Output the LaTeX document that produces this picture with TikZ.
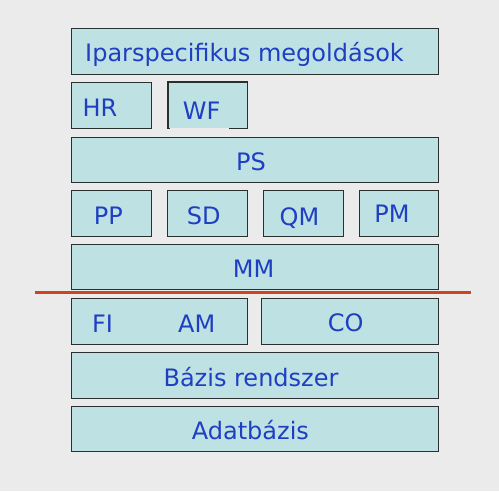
\documentclass[tikz,border=0pt]{standalone}
\usepackage{fontspec}
\setmainfont{DejaVu Sans}
\definecolor{bgc}{HTML}{EBEBEB}
\definecolor{boxc}{HTML}{BEE1E4}
\definecolor{bordc}{HTML}{2A2F2F}
\definecolor{txtc}{HTML}{1E3FC2}
\definecolor{redc}{HTML}{CC4420}
\tikzset{
  blk/.style={draw=bordc, fill=boxc, line width=1.2pt, inner sep=0pt, anchor=north west},
  blkfill/.style={fill=boxc, inner sep=0pt, anchor=north west},
  lbl/.style={text=txtc, inner sep=0pt, anchor=base, font=\fontsize{24}{28}\selectfont},
  redline/.style={draw=redc, line width=2.6pt}
}
\begin{document}
\begin{tikzpicture}[x=1pt,y=-1pt]
\fill[bgc] (0,0) rectangle (499,491);
\useasboundingbox (0,0) rectangle (499,491);
% boxes
\node[blk, minimum width=367pt, minimum height=46pt] (ip) at (71,28) {};
\node[blk, minimum width=80pt, minimum height=46pt] (hr) at (71,82) {};
\node[blkfill, minimum width=79pt, minimum height=46pt] (wf) at (168,82) {};
\draw[draw=bordc, line width=1.2pt] ([xshift=2pt]wf.south west) -- (wf.south west) -- (wf.north west) -- (wf.north east) -- (wf.south east) -- ([xshift=-18pt]wf.south east);
\node[blk, minimum width=367pt, minimum height=45.5pt] (ps) at (71,136.5) {};
\node[blk, minimum width=80pt, minimum height=45.5pt] (pp) at (71,190) {};
\node[blk, minimum width=80pt, minimum height=45.5pt] (sd) at (166.5,190) {};
\node[blk, minimum width=80pt, minimum height=45.5pt] (qm) at (262.5,190) {};
\node[blk, minimum width=79.5pt, minimum height=45.5pt] (pm) at (358.5,190) {};
\node[blk, minimum width=367pt, minimum height=45.5pt] (mm) at (71,243.5) {};
\node[blk, minimum width=176pt, minimum height=46pt] (fa) at (71,297.5) {};
\node[blk, minimum width=177pt, minimum height=46pt] (co) at (261,297.5) {};
\node[blk, minimum width=367pt, minimum height=46pt] (bz) at (71,351.5) {};
\node[blk, minimum width=367pt, minimum height=45.5pt] (ad) at (71,405.5) {};
% red line
\coordinate (rl1) at (35,292.6);
\coordinate (rl2) at (471,292.6);
\draw[redline] (rl1) -- (rl2);
% labels
\node[lbl] (tip) at (244.5,61) {Iparspecifikus megoldások};
\node[lbl] (thr) at (100,116) {HR};
\node[lbl] (twf) at (201.7,119) {WF};
\node[lbl] (tps) at (251,170) {PS};
\node[lbl] (tpp) at (108.3,224) {PP};
\node[lbl] (tsd) at (203.7,224.3) {SD};
\node[lbl] (tqm) at (299.5,225) {QM};
\node[lbl] (tpm) at (392,222.7) {PM};
\node[lbl] (tmm) at (253.5,277) {MM};
\node[lbl] (tfi) at (102.5,332.3) {FI};
\node[lbl] (tam) at (196.8,332) {AM};
\node[lbl] (tco) at (345.8,331.7) {CO};
\node[lbl] (tbz) at (251,386.7) {Bázis rendszer};
\node[lbl] (tad) at (250.4,439) {Adatbázis};
\end{tikzpicture}
\end{document}
